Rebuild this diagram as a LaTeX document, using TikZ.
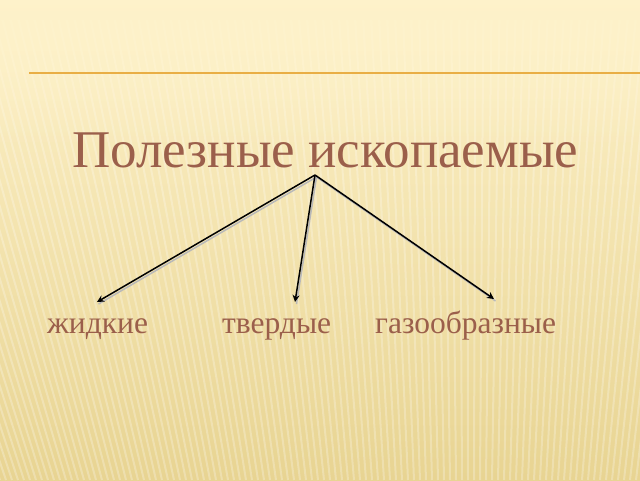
\documentclass[tikz,border=0pt]{standalone}
\usepackage{fontspec}
\setmainfont{Liberation Serif}
\usetikzlibrary{arrows.meta,fadings}
\definecolor{bgtop}{HTML}{FEF2CA}
\definecolor{bgbottom}{HTML}{E8D492}
\definecolor{titlebrown}{HTML}{9B5F4B}
\definecolor{rulegold}{HTML}{E9AE45}
\tikzset{
	branch/.style={line width=1.5pt, -{Stealth[open, length=7pt, width=7pt]},
		preaction={draw=gray!55, line width=1.5pt, -, transform canvas={shift={(1.5pt,-2pt)}}}},
	label text/.style={font=\fontsize{31.5}{36}\selectfont, text=titlebrown, inner sep=0pt}
}
\begin{document}
\begin{tikzpicture}[x=1pt, y=-1pt]
			%background
			\useasboundingbox (0,0) rectangle (640,480);
			\shade[top color=bgtop, bottom color=bgbottom] (0,0) rectangle (640,480);
			\begin{scope}
				\clip (0,20) rectangle (640,480);
				\foreach \x in {-60,...,120}
				\draw[white, opacity=0.25, line width=2pt] (\x*6,480) -- ({\x*6+(\x*6-470)*0.35},0);
			\end{scope}
			\fill[bgtop, path fading=south] (0,0) rectangle (640,150);
			%rule
			\draw[rulegold, line width=2pt] (29,73) -- (640,73);
			%title
			\node[label text, font=\fontsize{53}{60}\selectfont, anchor=base west] (title) at (72,167) {Полезные ископаемые};
			\coordinate (apex) at (315,175);
			%labels
			\node[label text, anchor=base west] (liquid) at (47,333) {жидкие};
			\node[label text, anchor=base west] (solid) at (222,333) {твердые};
			\node[label text, anchor=base west] (gas) at (375,333) {газообразные};
			\coordinate (liquid tip) at (97,302);
			\coordinate (solid tip) at (295,302);
			\coordinate (gas tip) at (494,299);
			%arrows
			\draw[branch] (apex) -- (liquid tip);
			\draw[branch] (apex) -- (solid tip);
			\draw[branch] (apex) -- (gas tip);
\end{tikzpicture}
\end{document}
